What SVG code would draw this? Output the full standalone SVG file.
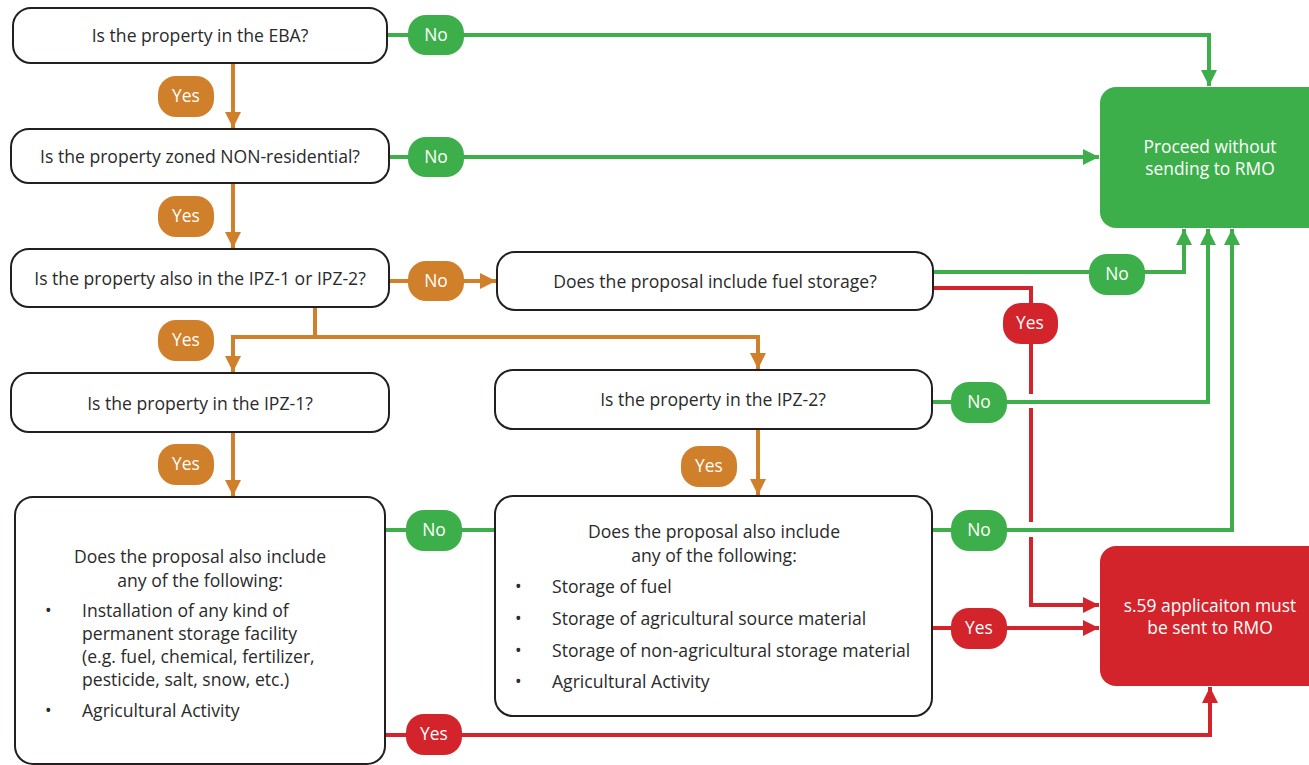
<svg xmlns="http://www.w3.org/2000/svg" width="1309" height="765" viewBox="0 0 1309 765">
<defs>
<style>
.box{fill:#fff;stroke:#231f20;stroke-width:2}
.t{font-family:"Open Sans","Noto Sans",sans-serif;font-size:17.6px;fill:#2a2a2a}
.c{text-anchor:middle}
.w{font-family:"Open Sans","Noto Sans",sans-serif;font-size:17.4px;fill:#fff;text-anchor:middle}
.g{stroke:#3daf4a;stroke-width:4;fill:none}
.o{stroke:#d07f2a;stroke-width:4;fill:none}
.r{stroke:#d4242b;stroke-width:4;fill:none}
.gf{fill:#3daf4a}.of{fill:#d07f2a}.rf{fill:#d4242b}
</style>
<marker id="ag" viewBox="0 0 10 10" refX="10" refY="5" markerWidth="4.5" markerHeight="4" orient="auto" markerUnits="strokeWidth"><path d="M0,0L10,5L0,10z" fill="#3daf4a"/></marker>
<marker id="ao" viewBox="0 0 10 10" refX="10" refY="5" markerWidth="4.5" markerHeight="4" orient="auto" markerUnits="strokeWidth"><path d="M0,0L10,5L0,10z" fill="#d07f2a"/></marker>
<marker id="ar" viewBox="0 0 10 10" refX="10" refY="5" markerWidth="4.5" markerHeight="4" orient="auto" markerUnits="strokeWidth"><path d="M0,0L10,5L0,10z" fill="#d4242b"/></marker>
</defs>
<rect width="1309" height="765" fill="#fff"/>
<g id="connectors">
<path class="g" d="M387,35H1209V86" marker-end="url(#ag)"/>
<path class="g" d="M389,157H1099" marker-end="url(#ag)"/>
<path class="o" d="M233,63V128" marker-end="url(#ao)"/>
<path class="o" d="M233,183V248" marker-end="url(#ao)"/>
<path class="o" d="M389,281H496" marker-end="url(#ao)"/>
<path class="o" d="M315,307V337H233V372" marker-end="url(#ao)"/>
<path class="o" d="M315,337H758V369" marker-end="url(#ao)"/>
<path class="g" d="M933,272H1184V229" marker-end="url(#ag)"/>
<path class="r" d="M933,288H1031V394"/>
<path class="r" d="M1031,408V522"/>
<path class="r" d="M1031,537V605H1099" marker-end="url(#ar)"/>
<path class="g" d="M932,402H1208V229" marker-end="url(#ag)"/>
<path class="g" d="M932,530H1232V229" marker-end="url(#ag)"/>
<path class="r" d="M932,628H1099" marker-end="url(#ar)"/>
<path class="o" d="M233,432V496" marker-end="url(#ao)"/>
<path class="o" d="M758,429V495" marker-end="url(#ao)"/>
<path class="g" d="M385,530H495"/>
<path class="r" d="M385,735H1210V687" marker-end="url(#ar)"/>
<rect class="gf" x="408" y="15" width="56" height="40" rx="18"/><text class="w" x="436" y="41">No</text>
<rect class="gf" x="408" y="137" width="56" height="40" rx="18"/><text class="w" x="436" y="163">No</text>
<rect class="of" x="158" y="76" width="56" height="41" rx="18"/><text class="w" x="186" y="102">Yes</text>
<rect class="of" x="158" y="196" width="56" height="41" rx="18"/><text class="w" x="186" y="222">Yes</text>
<rect class="of" x="408" y="261" width="56" height="40" rx="18"/><text class="w" x="436" y="287">No</text>
<rect class="of" x="158" y="320" width="56" height="41" rx="18"/><text class="w" x="186" y="346">Yes</text>
<rect class="gf" x="1089" y="254" width="56" height="41" rx="18"/><text class="w" x="1117" y="280">No</text>
<rect class="rf" x="1003" y="303" width="55" height="41" rx="18"/><text class="w" x="1030" y="329">Yes</text>
<rect class="gf" x="951" y="382" width="56" height="41" rx="18"/><text class="w" x="979" y="408">No</text>
<rect class="of" x="158" y="444" width="56" height="41" rx="18"/><text class="w" x="186" y="470">Yes</text>
<rect class="of" x="681" y="446" width="56" height="41" rx="18"/><text class="w" x="709" y="472">Yes</text>
<rect class="gf" x="406" y="510" width="56" height="41" rx="18"/><text class="w" x="434" y="536">No</text>
<rect class="gf" x="951" y="510" width="56" height="41" rx="18"/><text class="w" x="979" y="536">No</text>
<rect class="rf" x="951" y="608" width="56" height="41" rx="18"/><text class="w" x="979" y="634">Yes</text>
<rect class="rf" x="406" y="714" width="56" height="41" rx="18"/><text class="w" x="434" y="740">Yes</text>
</g>
<g id="n1"><rect class="box" x="13" y="8" width="374" height="55" rx="18"/><text class="t c" x="200" y="42">Is the property in the EBA?</text></g>
<g id="n2"><rect class="box" x="11" y="129" width="378" height="54" rx="18"/><text class="t c" x="200" y="163">Is the property zoned NON-residential?</text></g>
<g id="n3"><rect class="box" x="11" y="249" width="378" height="58" rx="18"/><text class="t c" x="200" y="285">Is the property also in the IPZ-1 or IPZ-2?</text></g>
<g id="n4"><rect class="box" x="497" y="252" width="436" height="58" rx="18"/><text class="t c" x="715" y="288">Does the proposal include fuel storage?</text></g>
<g id="n5"><rect class="box" x="11" y="373" width="378" height="59" rx="18"/><text class="t c" x="200" y="410">Is the property in the IPZ-1?</text></g>
<g id="n6"><rect class="box" x="495" y="370" width="437" height="59" rx="18"/><text class="t c" x="713" y="406">Is the property in the IPZ-2?</text></g>
<g id="n7"><rect class="box" x="15" y="497" width="370" height="267" rx="18"/>
<text class="t c" x="200" y="563">Does the proposal also include</text>
<text class="t c" x="200" y="587">any of the following:</text>
<text class="t" x="45" y="617">•</text><text class="t" x="82" y="617">Installation of any kind of</text>
<text class="t" x="82" y="640">permanent storage facility</text>
<text class="t" x="82" y="663">(e.g. fuel, chemical, fertilizer,</text>
<text class="t" x="82" y="686">pesticide, salt, snow, etc.)</text>
<text class="t" x="45" y="717">•</text><text class="t" x="82" y="717">Agricultural Activity</text>
</g>
<g id="n8"><rect class="box" x="495" y="496" width="437" height="220" rx="18"/>
<text class="t c" x="714" y="538">Does the proposal also include</text>
<text class="t c" x="714" y="562">any of the following:</text>
<text class="t" x="515" y="593">•</text><text class="t" x="552" y="593">Storage of fuel</text>
<text class="t" x="515" y="625">•</text><text class="t" x="552" y="625">Storage of agricultural source material</text>
<text class="t" x="515" y="657">•</text><text class="t" x="552" y="657">Storage of non-agricultural storage material</text>
<text class="t" x="515" y="688">•</text><text class="t" x="552" y="688">Agricultural Activity</text>
</g>
<g id="n9"><rect class="gf" x="1100" y="87" width="225" height="141" rx="16"/><text class="w" x="1210" y="153">Proceed without</text><text class="w" x="1210" y="175">sending to RMO</text></g>
<g id="n10"><rect class="rf" x="1100" y="546" width="225" height="140" rx="16"/><text class="w" x="1210" y="612">s.59 applicaiton must</text><text class="w" x="1210" y="634">be sent to RMO</text></g>
</svg>
